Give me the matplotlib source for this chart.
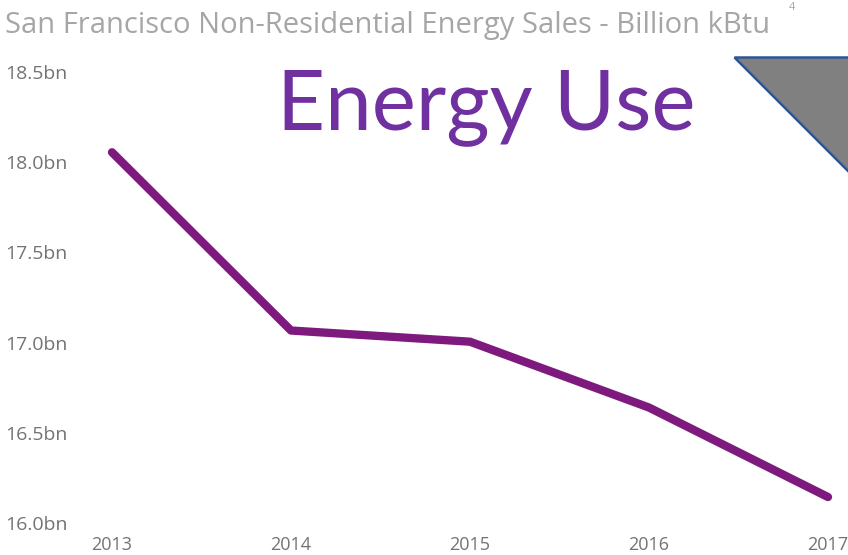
import matplotlib.pyplot as plt
from matplotlib.patches import Polygon

# ========== DATA ==========
years = [2013, 2014, 2015, 2016, 2017]
sales_bn = [18.055, 17.067, 17.005, 16.64, 16.144]
y_ticks = [16.0, 16.5, 17.0, 17.5, 18.0, 18.5]
y_labels = ["16.0bn", "16.5bn", "17.0bn", "17.5bn", "18.0bn", "18.5bn"]

W, H = 848, 555
fig = plt.figure(figsize=(W / 100, H / 100), dpi=100)
fig.patch.set_facecolor("white")

# axes placed so 2013..2017 and 16.0..18.5 land on the reference pixels
ax = fig.add_axes([112 / W, (H - 523) / H, (828 - 112) / W, (523 - 72) / H])
ax.plot(years, sales_bn, color="#7E1A7E", linewidth=6, solid_capstyle="round",
        clip_on=False, zorder=3)
ax.set_xlim(2013, 2017)
ax.set_ylim(16.0, 18.5)

for s in ax.spines.values():
    s.set_visible(False)
ax.set_xticks(years)
ax.set_xticklabels([str(y) for y in years])
ax.set_yticks(y_ticks)
ax.set_yticklabels(y_labels)
ax.tick_params(axis="both", length=0, colors="#737373", labelsize=14)
ax.tick_params(axis="x", labelsize=13, pad=9)
ax.tick_params(axis="y", pad=77)
for lbl in ax.get_yticklabels():
    lbl.set_horizontalalignment("left")
for lbl in ax.get_xticklabels() + ax.get_yticklabels():
    lbl.set_fontfamily("Open Sans")

# title
fig.text(5 / W, 1 - 25 / H, "San Francisco Non-Residential Energy Sales - Billion kBtu",
         fontsize=21, color="#A6A6A6", family="Open Sans", va="center", ha="left")
fig.text(789 / W, 1 - 8 / H, "4", fontsize=8, color="#A6A6A6", family="Open Sans",
         va="center", ha="left")

# overlay heading
fig.text(486 / W, 1 - 108 / H, "Energy Use", fontsize=60, color="#7030A0",
         family="Lato", va="center", ha="center")

# decorative triangle in top-right corner
tri = Polygon([(734 / W, 1 - 57 / H), (860 / W, 1 - 57 / H), (860 / W, 1 - 183 / H)],
              closed=True, transform=fig.transFigure, facecolor="#808080",
              edgecolor="#2F5597", linewidth=1.8, clip_on=False)
fig.patches.append(tri)

plt.savefig("out.png", dpi=100)
